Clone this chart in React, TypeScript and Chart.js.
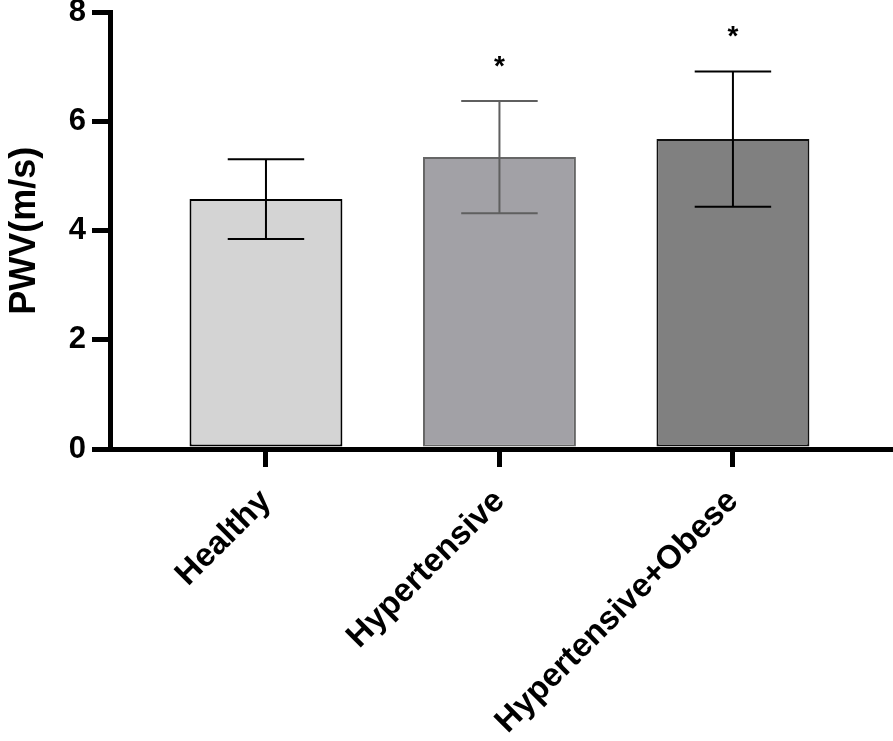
import React, { useEffect, useRef } from "react";
import { Chart, registerables } from "chart.js";

Chart.register(...registerables);

const categories = ["Healthy", "Hypertensive", "Hypertensive+Obese"];
const means = [4.58, 5.35, 5.68];
const errors = [0.73, 1.03, 1.24];
const marks = ["", "*", "*"];
const yTicks = [0, 2, 4, 6, 8];

const fillColors = ["#d4d4d4", "#a2a1a6", "#808080"];
const borderColors = ["#000000", "#666666", "#111111"];
const errColors = ["#000000", "#5f5f5f", "#000000"];

const FONT = "'Liberation Sans', Arial, Helvetica, sans-serif";

const errorBarPlugin = {
  id: "errorBars",
  afterDatasetsDraw(chart: any) {
    const ctx = chart.ctx;
    const meta = chart.getDatasetMeta(0);
    const y = chart.scales.y;
    ctx.save();
    meta.data.forEach((bar: any, i: number) => {
      const hi = y.getPixelForValue(means[i] + errors[i]);
      const lo = y.getPixelForValue(means[i] - errors[i]);
      const half = bar.width * 0.25;
      ctx.strokeStyle = errColors[i];
      ctx.lineWidth = 2;
      ctx.beginPath();
      ctx.moveTo(bar.x, hi);
      ctx.lineTo(bar.x, lo);
      ctx.moveTo(bar.x - half, hi);
      ctx.lineTo(bar.x + half, hi);
      ctx.moveTo(bar.x - half, lo);
      ctx.lineTo(bar.x + half, lo);
      ctx.stroke();
      if (marks[i]) {
        ctx.fillStyle = "#000";
        ctx.font = `bold 28px ${FONT}`;
        ctx.textAlign = "center";
        ctx.textBaseline = "alphabetic";
        ctx.fillText(marks[i], bar.x, hi - 26);
      }
    });
    ctx.restore();
  },
};

export default function App() {
  const ref = useRef<HTMLCanvasElement>(null);
  useEffect(() => {
    if (!ref.current) return;
    const chart = new Chart(ref.current, {
      type: "bar",
      data: {
        datasets: [
          {
            data: means.map((v, i) => ({ x: i, y: v })),
            backgroundColor: fillColors,
            borderColor: borderColors,
            borderWidth: 2,
            borderSkipped: false,
            barPercentage: 0.655,
            categoryPercentage: 1,
          },
        ],
      },
      options: {
        responsive: false,
        animation: false,
        layout: { padding: { top: 12.5, right: 2, left: 0, bottom: 0 } },
        plugins: { legend: { display: false }, tooltip: { enabled: false } },
        scales: {
          x: {
            type: "linear",
            min: -0.668,
            max: 2.677,
            offset: false,
            z: 1,
            afterBuildTicks(scale: any) {
              scale.ticks = categories.map((_, i) => ({ value: i }));
            },
            afterFit(scale: any) {
              scale.height = 292;
              scale.paddingLeft = 0;
              scale.paddingRight = 0;
            },
            ticks: {
              autoSkip: false,
              minRotation: 45,
              maxRotation: 45,
              padding: 15,
              color: "#000",
              font: { family: FONT, size: 33, weight: "bold" },
              callback: (v: any) => categories[v] ?? "",
            },
            grid: {
              offset: false,
              drawOnChartArea: false,
              drawTicks: true,
              tickLength: 18,
              lineWidth: 5,
              color: "#000",
            },
            border: { display: true, width: 5, color: "#000" },
          },
          y: {
            min: 0,
            max: 8,
            z: 1,
            afterBuildTicks(scale: any) {
              scale.ticks = yTicks.map((v) => ({ value: v }));
            },
            afterFit(scale: any) {
              scale.width = 110;
              scale.paddingTop = 0;
              scale.paddingBottom = 0;
            },
            ticks: {
              padding: 6,
              color: "#000",
              font: { family: FONT, size: 31, weight: "bold" },
            },
            grid: {
              drawOnChartArea: false,
              drawTicks: true,
              tickLength: 18,
              lineWidth: 5,
              color: "#000",
            },
            border: { display: true, width: 5, color: "#000" },
            title: {
              display: true,
              text: "PWV(m/s)",
              color: "#000",
              padding: { top: 3, bottom: 0 },
              font: { family: FONT, size: 36, weight: "bold" },
            },
          },
        },
      },
      plugins: [errorBarPlugin],
    } as any);
    return () => chart.destroy();
  }, []);
  return (
    <div style={{ position: "absolute", left: 0, top: 0, width: 893, height: 741, background: "#fff" }}>
      <canvas ref={ref} width={893} height={741} style={{ display: "block" }} />
    </div>
  );
}
